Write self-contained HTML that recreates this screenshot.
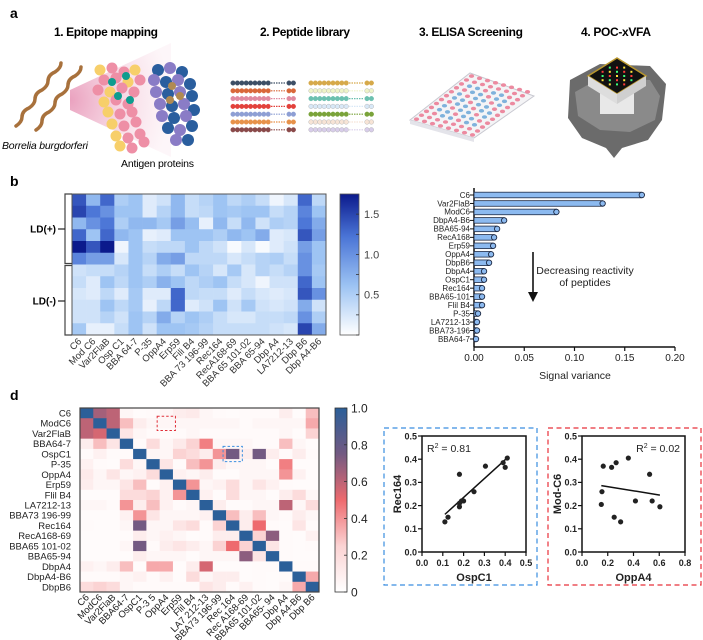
<!DOCTYPE html>
<html><head><meta charset="utf-8"><style>
html,body{margin:0;padding:0;background:#fff;}
svg{display:block;font-family:"Liberation Sans",sans-serif;}
</style></head><body>
<svg id="fig" width="703" height="640" viewBox="0 0 703 640">
<defs>
<linearGradient id="blueBar" x1="0" y1="1" x2="0" y2="0">
<stop offset="0" stop-color="#ffffff"/><stop offset="0.35" stop-color="#9cc3f3"/><stop offset="0.7" stop-color="#4a74d6"/><stop offset="1" stop-color="#0b1a8c"/></linearGradient>
<linearGradient id="corrBar" x1="0" y1="1" x2="0" y2="0">
<stop offset="0" stop-color="#ffffff"/><stop offset="0.25" stop-color="#fbd3d3"/><stop offset="0.5" stop-color="#ee6a6e"/><stop offset="0.75" stop-color="#735a82"/><stop offset="1" stop-color="#2b5f99"/></linearGradient>
<radialGradient id="cone" cx="0" cy="0.5" r="1"><stop offset="0" stop-color="#d9548a" stop-opacity="0.55"/><stop offset="1" stop-color="#f3c4d6" stop-opacity="0.15"/></radialGradient>
</defs>

<!-- Panel a -->
<g>
<text x="10" y="18" font-size="14" font-weight="bold">a</text>
<text x="106" y="36" font-size="12" font-weight="bold" text-anchor="middle" textLength="104">1. Epitope mapping</text>
<text x="305" y="36" font-size="12" font-weight="bold" text-anchor="middle" textLength="90">2. Peptide library</text>
<text x="471" y="36" font-size="12" font-weight="bold" text-anchor="middle" textLength="104">3. ELISA Screening</text>
<text x="616" y="36" font-size="12" font-weight="bold" text-anchor="middle" textLength="70">4. POC-xVFA</text>
<polygon points="70,90 171,43 171,157 70,110" fill="url(#cone)"/>
<path d="M16,126 q6,-4 6,-9 q0,-6 7,-9 q6,-4 6,-9 q0,-6 7,-9 q6,-4 6,-9 q0,-6 7,-9 q6,-4 6,-9" fill="none" stroke="#a8713c" stroke-width="3.5" stroke-linecap="round"/>
<path d="M36,130 q6,-4 6,-9 q0,-6 7,-9 q6,-4 6,-9 q0,-6 7,-9 q6,-4 6,-9 q0,-6 7,-9 q6,-4 6,-9" fill="none" stroke="#a8713c" stroke-width="3.5" stroke-linecap="round"/>
<g id="protA"></g>
<g id="protB"></g>
<text x="2" y="149" font-size="10.5" font-style="italic" textLength="86">Borrelia burgdorferi</text>
<text x="121" y="167" font-size="10.5" textLength="73">Antigen proteins</text>
<g id="peptides"></g>
<g>
<polygon points="410,120 470,73 534,96 474,138" fill="#f4f4f6" stroke="#c8c8d0"/>
<polygon points="410,120 474,138 474,142 410,124" fill="#e4e4ea"/>
<g id="wells"></g>
</g>
<g>
<path d="M570,80 L600,64 L650,66 L666,84 L662,120 L648,140 L622,148 L614,158 L606,148 L582,138 L568,118 Z" fill="#6b6b6b"/>
<path d="M575,92 L600,78 L650,80 L660,96 L655,120 L630,132 L600,130 L578,116 Z" fill="#8a8a8a"/>
<rect x="600" y="80" width="34" height="34" fill="#e8e8e8" transform="rotate(0)"/>
<polygon points="617,58 646,76 617,94 588,76" fill="#111" stroke="#b8962e" stroke-width="1.5"/>
<polygon points="588,76 617,94 617,104 588,86" fill="#ddd"/>
<polygon points="617,94 646,76 646,86 617,104" fill="#cfcfcf"/>
<g id="dots"></g>
</g>
</g>

<!-- Panel b -->
<text x="10" y="186" font-size="14" font-weight="bold">b</text>
<g id="heatB"></g>
<g id="barB"></g>

<!-- Panel d -->
<text x="10" y="400" font-size="14" font-weight="bold">d</text>
<g id="heatD"></g>
<g id="sc1"></g>
<g id="sc2"></g>
</svg>
<script>
// ---------- data ----------
const heatBCols = ["C6","Mod C6","Var2FlaB","Osp C1","BBA 64-7","P-35","OppA4","Erp59","Fili B4","BBA 73 196-99","Rec164","RecA168-69","BBA 65 101-02","BBA 65-94","Dbp A4","LA7212-13","Dbp B6","Dbp A4-B6"];
const heatBRow0=[1.4,.7,1.3,.5,.6,.2,.3,.7,.35,.45,.6,.4,.5,.35,.1,.25,1.3,.4];
const heatBRow1=[1.5,1.2,1.0,.6,.6,.2,.45,.7,.35,.4,.6,.55,.6,.6,.35,.45,1.1,.6];
const heatBRow2=[.7,1.0,1.2,.5,.7,.7,.55,.9,.65,.15,.7,.35,.7,.3,.5,.45,1.2,.8];
const heatBRow3=[1.3,.6,1.3,.7,.6,.15,.2,.6,.6,.6,.5,.7,.6,.8,.2,.25,1.4,.9];
const heatBRow4=[1.75,1.4,1.75,.1,.6,.35,.4,.4,.6,.4,.3,.05,.25,.05,.2,.3,.9,.6];
const heatBRow5=[1.1,.9,.9,.25,.6,.45,.8,.9,.4,.4,.4,.25,.35,.45,.5,.35,1.0,.6];
const heatBRow6=[.3,.35,.35,.45,.6,.35,.5,.35,.6,.45,.25,.55,.25,.45,.35,.45,1.0,.55];
const heatBRow7=[.35,.2,.6,.4,.6,.5,.75,.6,.4,.5,.6,.35,.25,.1,.3,.3,1.3,.6];
const heatBRow8=[.25,.2,.4,.2,.55,.2,.2,1.3,.4,.35,.35,.2,.35,.25,.2,.25,1.4,1.0];
const heatBRow9=[.3,.3,.6,.4,.55,.15,.4,1.3,.2,.3,.6,.3,.55,.3,.25,.3,.8,.3];
const heatBRow10=[.3,.3,.45,.3,.6,.45,.8,.45,.6,.5,.35,.25,.25,.35,.35,.4,1.0,.5];
const heatBRow11=[.55,.15,.15,.35,.6,.3,.6,.6,.55,.45,.35,.35,.35,.35,.3,.25,1.5,.8];
const heatBColorTicks=[0.5,1.0,1.5];

const barLabels=["C6","Var2FlaB","ModC6","DbpA4-B6","BBA65-94","RecA168","Erp59","OppA4","DbpB6","DbpA4","OspC1","Rec164","BBA65-101","Flil B4","P-35","LA7212-13","BBA73-196","BBA64-7"];
const barValues=[0.167,0.128,0.082,0.030,0.023,0.020,0.019,0.017,0.015,0.010,0.010,0.008,0.008,0.008,0.004,0.003,0.003,0.002];
const barTicks=[0,0.05,0.10,0.15,0.20];

const corrRows=["C6","ModC6","Var2FlaB","BBA64-7","OspC1","P-35","OppA4","Erp59","Flil B4","LA7212-13","BBA73 196-99","Rec164","RecA168-69","BBA65 101-02","BBA65-94","DbpA4","DbpA4-B6","DbpB6"];
const corrCols=["C6","ModC6","Var2FlaB","BBA64-7","OspC1","P-3 5","OppA4","Erp59","Flil B4","LA7 212-13","BBA73 196-99","Rec 164","Rec A168-69","BBA65 101-02","BBA65- 94","Dbp A4","Dbp A4-B6","Dbp B6"];
const corr0=[1,.65,.6,.05,.02,.03,.05,.1,.12,.05,.03,.02,.03,.03,.03,.1,.02,.3];
const corr1=[.6,1,.6,.3,.1,.05,.05,.05,.05,.05,.05,.05,.03,.05,.05,.05,.05,.35];
const corr2=[.6,.55,1,.15,.05,.03,.02,.03,.05,.03,.03,.03,.03,.03,.03,.05,.02,.25];
const corr3=[.1,.3,.15,1,.03,.2,.05,.12,.25,.45,.05,.05,.05,.03,.03,.3,.05,.02];
const corr4=[.03,.08,.03,.03,1,.05,.05,.25,.2,.1,.4,.75,.1,.75,.1,.03,.1,.03];
const corr5=[.08,.03,.02,.2,.05,1,.15,.03,.3,.4,.1,.05,.05,.05,.02,.45,.02,.02];
const corr6=[.12,.05,.15,.05,.08,.2,1,.08,.05,.1,.02,.02,.05,.05,.05,.4,.08,.02];
const corr7=[.1,.05,.05,.15,.3,.02,.08,1,.4,.05,.08,.2,.05,.15,.08,.03,.02,.02];
const corr8=[.02,.02,.02,.2,.2,.25,.08,.4,1,.08,.02,.2,.05,.05,.02,.1,.2,.05];
const corr9=[.05,.05,.03,.4,.1,.3,.08,.03,.05,1,.1,.03,.03,.05,.05,.6,.05,.2];
const corr10=[.02,.02,.02,.08,.4,.15,.05,.05,.05,.08,1,.3,.1,.3,.05,.03,.1,.05];
const corr11=[.03,.02,.02,.05,.75,.05,.05,.15,.2,.03,.25,1,.1,.5,.03,.02,.15,.03];
const corr12=[.02,.02,.02,.02,.1,.05,.08,.05,.02,.03,.1,.1,1,.25,.7,.03,.02,.08];
const corr13=[.02,.02,.02,.05,.75,.03,.1,.15,.1,.05,.25,.5,.25,1,.15,.03,.02,.03];
const corr14=[.02,.02,.02,.02,.1,.05,.05,.05,.02,.05,.05,.05,.7,.15,1,.03,.02,.02];
const corr15=[.08,.05,.1,.3,.02,.35,.35,.02,.1,.55,.02,.02,.02,.03,.03,1,.03,.03];
const corr16=[.03,.03,.03,.05,.08,.03,.08,.02,.2,.05,.1,.1,.02,.03,.02,.03,1,.35];
const corr17=[.2,.25,.2,.05,.03,.03,.03,.03,.03,.15,.1,.03,.08,.03,.02,.05,.35,1];
const corrTicks=[0,0.2,0.4,0.6,0.8,1.0];

const s1X=[0.11,0.125,0.18,0.18,0.18,0.19,0.2,0.25,0.305,0.39,0.40,0.41];
const s1Y=[0.13,0.15,0.335,0.195,0.21,0.22,0.22,0.26,0.37,0.385,0.365,0.405];
const s2X=[0.15,0.155,0.165,0.23,0.25,0.265,0.30,0.36,0.415,0.525,0.545,0.605];
const s2Y=[0.205,0.26,0.37,0.365,0.15,0.385,0.13,0.405,0.22,0.335,0.22,0.195];
const s1XTicks=[0,0.1,0.2,0.3,0.4,0.5];
const s2XTicks=[0,0.2,0.4,0.6,0.8];
const sYTicks=[0,0.1,0.2,0.3,0.4,0.5];

// ---------- helpers ----------
const NS="http://www.w3.org/2000/svg";
function mk(parent,tag,attrs,txt){const e=document.createElementNS(NS,tag);for(const k in attrs)e.setAttribute(k,attrs[k]);if(txt!==undefined)e.textContent=txt;parent.appendChild(e);return e;}
function lerp(a,b,t){return a+(b-a)*t;}
function ramp(stops,v){for(let i=1;i<stops.length;i++){if(v<=stops[i][0]){const t=(v-stops[i-1][0])/(stops[i][0]-stops[i-1][0]);const a=stops[i-1][1],b=stops[i][1];return `rgb(${Math.round(lerp(a[0],b[0],t))},${Math.round(lerp(a[1],b[1],t))},${Math.round(lerp(a[2],b[2],t))})`;}}const l=stops[stops.length-1][1];return `rgb(${l[0]},${l[1]},${l[2]})`;}
const blueStops=[[0,[255,255,255]],[0.35,[156,195,243]],[0.7,[74,116,214]],[1,[11,26,140]]];
const corrStops=[[0,[255,255,255]],[0.25,[251,211,211]],[0.5,[238,106,110]],[0.75,[115,90,130]],[1,[43,95,153]]];

// ---------- panel a illustrations ----------
(function(){
  const pa=document.getElementById('protA'), pb=document.getElementById('protB');
  const ptsA=[[100,70],[112,68],[124,72],[135,70],[104,80],[116,78],[128,82],[140,80],[98,90],[110,92],[122,88],[134,92],[104,102],[116,100],[128,104],[108,112],[120,114],[132,112],[112,124],[124,126],[136,122],[116,136],[128,138],[140,134],[120,146],[132,148],[144,142]];
  ptsA.forEach((p,i)=>{const c=mk(pa,'circle',{cx:p[0],cy:p[1],r:5.5,fill:i%3==0?'#f7cf6a':'#ee8fa6'});
    
    });
  [[112,82],[126,76],[118,96],[130,100]].forEach(p=>{const c=mk(pa,'circle',{cx:p[0],cy:p[1],r:4,fill:'#0e9c8e'});
    
    });
  const ptsB=[[158,70],[170,68],[182,72],[154,80],[166,82],[178,80],[190,84],[156,92],[168,94],[180,92],[192,96],[160,104],[172,106],[184,104],[194,110],[162,116],[174,118],[186,116],[168,128],[180,130],[192,126],[176,140],[188,140]];
  ptsB.forEach((p,i)=>{const c=mk(pb,'circle',{cx:p[0],cy:p[1],r:6,fill:i%2==0?'#2a5e9e':'#8a7cc6'});
    
    });
  [[172,86],[180,96],[170,100]].forEach(p=>{const c=mk(pb,'circle',{cx:p[0],cy:p[1],r:4,fill:'#b08a52'});
    
    });
  const pep=document.getElementById('peptides');
  const L=['#3d4f66','#d9683a','#e08aa0','#e2413b','#8e9fd4','#e7924a','#8a4a4a'];
  const R=['#d6a94a','#eef3c8','#6cc0b0','#d8e8f7','#7aa33a','#f7e4d6','#d8cdea'];
  for(let r=0;r<7;r++){const y=83+r*7.8;
    for(let k=0;k<2;k++){const x0=k==0?233:311;const col=k==0?L[r]:R[r];const stroke=(k==1&&(r==1||r==3||r==5||r==6))?'#a9a9a9':col;
      for(let i=0;i<9;i++){const c=mk(pep,'circle',{cx:x0+i*4.4,cy:y,r:2.3,fill:col,stroke:stroke,'stroke-width':0.4});
        
        }
      mk(pep,'line',{x1:x0+38,y1:y,x2:x0+52,y2:y,stroke:col,'stroke-dasharray':'1.5,1','stroke-width':1.2});
      for(let i=0;i<2;i++){const c=mk(pep,'circle',{cx:x0+56+i*4.4,cy:y,r:2.3,fill:col,stroke:stroke,'stroke-width':0.4});
        
        }
    }}
  const w=document.getElementById('wells');
  for(let r=0;r<8;r++)for(let c=0;c<12;c++){
    const u=(c+0.5)/12,v=(r+0.5)/8;
    const x=410+u*(470-410)+v*(474-410)+ u*v*0; const xx=410+(470-410)*u+(474-410)*v+((534-474)-(470-410))*u*v*0;
    const px=410+60*u+64*v+0*u*v+ (60)*0; const py=120-47*u+18*v+0;
    const blue=(r>=1&&r<=6&&c>=2&&c<=9&&((r+c)%3!=0));
    const e=mk(w,'ellipse',{cx:px+ (u*v)*0,cy:py,rx:2.6,ry:1.8,fill:blue?'#7fb2dc':'#ec8aa0'});
    
    }
  const d=document.getElementById('dots');
  const dc=['#ff3b3b','#3bd6ff','#ffe23b','#c53bff','#3bff7a','#ff8a3b'];
  for(let i=-3;i<=3;i++)for(let j=-3;j<=3;j++){if(Math.abs(i)+Math.abs(j)>4||(i+j)%2)continue;
    const e=mk(d,'rect',{x:617+(i-j)*3.6-1,y:76+(i+j)*2.1-1,width:2,height:2,fill:dc[(i*3+j+20)%6]});
    
    }
})();

// ---------- panel b heatmap ----------
(function(){
  const g=document.getElementById('heatB');
  const rows=[heatBRow0,heatBRow1,heatBRow2,heatBRow3,heatBRow4,heatBRow5,heatBRow6,heatBRow7,heatBRow8,heatBRow9,heatBRow10,heatBRow11];
  const X0=72,X1=326,Y0=194,Y1=335,VMAX=1.75;
  const cw=(X1-X0)/heatBCols.length, rh=(Y1-Y0)/rows.length;
  rows.forEach((row,r)=>row.forEach((v,c)=>{
    const e=mk(g,'rect',{x:X0+c*cw,y:Y0+r*rh,width:cw+0.3,height:rh+0.3,fill:ramp(blueStops,v/VMAX)});
    
    
  }));
  mk(g,'rect',{x:X0,y:Y0,width:X1-X0,height:Y1-Y0,fill:'none',stroke:'#555','stroke-width':1});
  heatBCols.forEach((n,c)=>{const x=X0+(c+0.5)*cw+3;const t=mk(g,'text',{x:x,y:342,'font-size':9.5,fill:'#333','text-anchor':'end',transform:`rotate(-45 ${x} 342)`},n);
    
    });
  // bracket
  mk(g,'path',{d:`M72,${Y0} H65 V${Y0+6*rh-1} H72 M72,${Y0+6*rh+1} H65 V${Y1} H72`,fill:'none',stroke:'#444','stroke-width':1.2});
  mk(g,'line',{x1:58,y1:229,x2:65,y2:229,stroke:'#222','stroke-width':1.2});
  mk(g,'line',{x1:58,y1:301,x2:65,y2:301,stroke:'#222','stroke-width':1.2});
  const a=mk(g,'text',{x:56,y:232.5,'font-size':10,'font-weight':'bold','text-anchor':'end'},'LD(+)');
  
  
  const b=mk(g,'text',{x:56,y:304.5,'font-size':10,'font-weight':'bold','text-anchor':'end'},'LD(-)');
  
  
  const cb=mk(g,'rect',{x:340,y:Y0,width:19,height:Y1-Y0,fill:'url(#blueBar)',stroke:'#555','stroke-width':0.8});
  
  
  for(let k=0;k<=6;k++){const y=Y1-k*0.25/VMAX*(Y1-Y0);if(y<Y0)break;mk(g,'line',{x1:356,y1:y,x2:359,y2:y,stroke:'#333','stroke-width':0.8});}
  heatBColorTicks.forEach(v=>{const y=Y1-v/VMAX*(Y1-Y0);const t=mk(g,'text',{x:364,y:y+4,'font-size':11,fill:'#444'},v.toFixed(1));
    
    });
})();

// ---------- panel b bar chart ----------
(function(){
  const g=document.getElementById('barB');
  const X0=474,X1=675,Y0=195,STEP=8.47,YB=347,XMAX=0.2;
  const sx=v=>X0+v/XMAX*(X1-X0);
  mk(g,'line',{x1:X0,y1:188,x2:X0,y2:YB,stroke:'#111','stroke-width':1.5});
  mk(g,'line',{x1:X0,y1:YB,x2:X1,y2:YB,stroke:'#111','stroke-width':1.5});
  barLabels.forEach((n,i)=>{const y=Y0+i*STEP;
    const r=mk(g,'rect',{x:X0,y:y-2.8,width:Math.max(0,sx(barValues[i])-X0),height:5.6,fill:'#8cbaf0',stroke:'#1e2a44','stroke-width':0.8});
    
    
    const c=mk(g,'circle',{cx:sx(barValues[i]),cy:y,r:2.7,fill:'#8cbaf0',stroke:'#1e2a44','stroke-width':0.9});
    
    
    mk(g,'line',{x1:X0-4,y1:y,x2:X0,y2:y,stroke:'#111','stroke-width':1});
    const t=mk(g,'text',{x:X0-4,y:y+2.8,'font-size':8,'text-anchor':'end',fill:'#222'},n);
    
    
  });
  barTicks.forEach(v=>{const x=sx(v);mk(g,'line',{x1:x,y1:YB,x2:x,y2:YB+4,stroke:'#111','stroke-width':1.2});
    const t=mk(g,'text',{x:x,y:361,'font-size':10,'text-anchor':'middle',fill:'#222'},v.toFixed(2));
    
    });
  const xt=mk(g,'text',{x:575,y:379,'font-size':10.5,'text-anchor':'middle',fill:'#222'},'Signal variance');
  
  
  mk(g,'line',{x1:533,y1:252,x2:533,y2:293,stroke:'#111','stroke-width':1.6});
  mk(g,'polygon',{points:'528,292 538,292 533,302',fill:'#111'});
  const a1=mk(g,'text',{x:585,y:274,'font-size':10.5,'text-anchor':'middle',fill:'#222'},'Decreasing reactivity');
  
  
  const a2=mk(g,'text',{x:585,y:286,'font-size':10.5,'text-anchor':'middle',fill:'#222'},'of peptides');
  
  
})();

// ---------- panel d correlation heatmap ----------
(function(){
  const g=document.getElementById('heatD');
  const rows=[corr0,corr1,corr2,corr3,corr4,corr5,corr6,corr7,corr8,corr9,corr10,corr11,corr12,corr13,corr14,corr15,corr16,corr17];
  const X0=80,X1=319,Y0=408,Y1=592;
  const cw=(X1-X0)/corrCols.length, rh=(Y1-Y0)/rows.length;
  rows.forEach((row,r)=>row.forEach((v,c)=>{
    const e=mk(g,'rect',{x:X0+c*cw,y:Y0+r*rh,width:cw+0.3,height:rh+0.3,fill:ramp(corrStops,v)});
    
    
  }));
  mk(g,'rect',{x:X0,y:Y0,width:X1-X0,height:Y1-Y0,fill:'none',stroke:'#444','stroke-width':1.2});
  corrRows.forEach((n,r)=>{const t=mk(g,'text',{x:71,y:Y0+(r+0.5)*rh+3.4,'font-size':9.5,'text-anchor':'end',fill:'#222'},n);
    
    });
  corrCols.forEach((n,c)=>{const x=X0+(c+0.5)*cw+3;const t=mk(g,'text',{x:x,y:598,'font-size':9.5,'text-anchor':'end',fill:'#222',transform:`rotate(-45 ${x} 598)`},n);
    
    });
  const rb=mk(g,'rect',{x:X0+6*cw-2.5,y:Y0+1*rh-2,width:cw+5,height:rh+4,fill:'none',stroke:'#e0303a','stroke-dasharray':'2.5,2','stroke-width':1});
  
  
  const bb=mk(g,'rect',{x:X0+11*cw-3,y:Y0+4*rh-2.5,width:cw+6,height:rh+5,fill:'none',stroke:'#3a8ee0','stroke-dasharray':'2.5,2','stroke-width':1});
  
  
  const cb=mk(g,'rect',{x:335,y:Y0,width:12,height:Y1-Y0,fill:'url(#corrBar)',stroke:'#333','stroke-width':0.8});
  
  
  corrTicks.forEach(v=>{const y=Y1-v*(Y1-Y0);mk(g,'line',{x1:344,y1:y,x2:347,y2:y,stroke:'#333','stroke-width':0.8});
    const t=mk(g,'text',{x:351,y:y+4.5,'font-size':12,fill:'#222'},v===0?'0':v.toFixed(1));
    
    });
})();

// ---------- scatter plots ----------
function scatter(id,xs,ys,xTicks,xmax,box,PX0,PX1,color,xTitle,yTitle,r2,r2x,r2anchor){
  const g=document.getElementById(id);
  const PY0=552,PY1=436,ymax=0.5;
  const sx=v=>PX0+v/xmax*(PX1-PX0), sy=v=>PY0-v/ymax*(PY0-PY1);
  mk(g,'rect',{x:box[0],y:428,width:box[1]-box[0],height:157,fill:'none',stroke:color,'stroke-dasharray':'5,3.5','stroke-width':1.2});
  mk(g,'rect',{x:PX0,y:PY1,width:PX1-PX0,height:PY0-PY1,fill:'none',stroke:'#111','stroke-width':1.5});
  sYTicks.forEach(v=>{const y=sy(v);mk(g,'line',{x1:PX0-4,y1:y,x2:PX0,y2:y,stroke:'#111','stroke-width':1.2});
    const t=mk(g,'text',{x:PX0-5,y:y+3.3,'font-size':9,'font-weight':'bold','text-anchor':'end',fill:'#222'},v.toFixed(1));
    
    });
  xTicks.forEach(v=>{const x=sx(v);mk(g,'line',{x1:x,y1:PY0,x2:x,y2:PY0+4,stroke:'#111','stroke-width':1.2});
    const t=mk(g,'text',{x:x,y:566,'font-size':9,'font-weight':'bold','text-anchor':'middle',fill:'#222'},v.toFixed(1));
    
    });
  // least squares fit
  const n=xs.length;let mx=0,my=0;xs.forEach((x,i)=>{mx+=x;my+=ys[i];});mx/=n;my/=n;
  let sxy=0,sxx=0;xs.forEach((x,i)=>{sxy+=(x-mx)*(ys[i]-my);sxx+=(x-mx)*(x-mx);});
  const m=sxy/sxx,b=my-m*mx;const xa=Math.min(...xs),xb=Math.max(...xs);
  const ln=mk(g,'line',{x1:sx(xa),y1:sy(m*xa+b),x2:sx(xb),y2:sy(m*xb+b),stroke:'#111','stroke-width':1.5});
  
  
  xs.forEach((x,i)=>{const c=mk(g,'circle',{cx:sx(x),cy:sy(ys[i]),r:2.6,fill:'#222'});
    
    });
  const xt=mk(g,'text',{x:(PX0+PX1)/2,y:581,'font-size':11,'font-weight':'bold','text-anchor':'middle',fill:'#222'},xTitle);
  
  
  const yx=PX0-21;
  const yt=mk(g,'text',{x:yx,y:494,'font-size':11,'font-weight':'bold','text-anchor':'middle',fill:'#222',transform:`rotate(-90 ${yx} 494)`},yTitle);
  
  
  const rt=mk(g,'text',{x:r2x,y:452,'font-size':10.5,'text-anchor':r2anchor,fill:'#222'});
  
  
  mk(rt,'tspan',{},'R');mk(rt,'tspan',{dy:-4,'font-size':7},'2');mk(rt,'tspan',{dy:4},' = '+r2);
}
scatter('sc1',s1X,s1Y,s1XTicks,0.5,[384,537],422,526,'#3a8ee0','OspC1','Rec164','0.81',427,'start');
scatter('sc2',s2X,s2Y,s2XTicks,0.8,[548,701],582,685,'#e8303a','OppA4','Mod-C6','0.02',680,'end');
</script>
</body></html>
